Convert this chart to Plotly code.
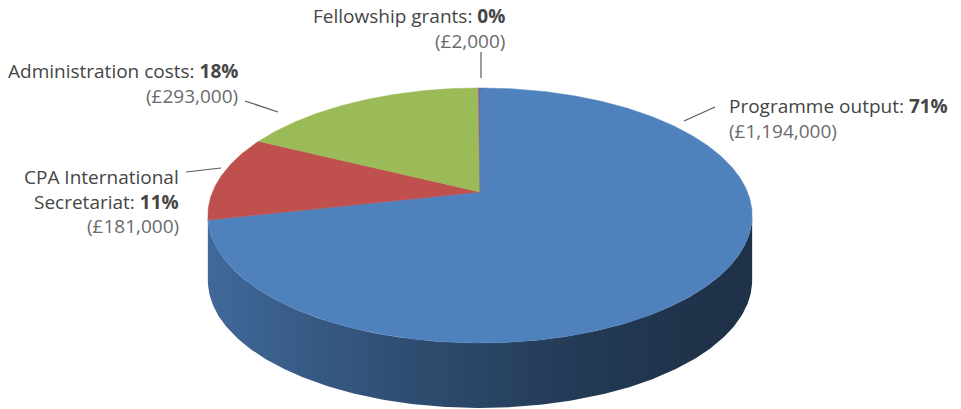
import numpy as np
import plotly.graph_objects as go

# ---------------- data ----------------
categories = ["Programme output", "CPA International Secretariat",
              "Administration costs", "Fellowship grants"]
values = [1194000, 181000, 293000, 2000]
label_first_lines = [["Programme output"], ["CPA International", "Secretariat"],
                     ["Administration costs"], ["Fellowship grants"]]
top_colors = ["#4f81bd", "#c0504d", "#9bbb59", "#8064a2"]

# ---------------- geometry / style ----------------
W, H = 961, 409
CX, CY = 480, 192          # projected centre of top face
RX, RB, K = 267.5, 123.2, 0.184   # radii + perspective factor
DEPTH = 65
FONT = "Open Sans"


def proj(theta_deg):
    t = np.radians(theta_deg)
    u, v = np.sin(t), np.cos(t)
    d = 1 + K * v
    return CX + RX * u / d, CY - RB * v / d


def hex2rgb(h):
    h = h.lstrip("#")
    return tuple(int(h[i:i + 2], 16) for i in (0, 2, 4))


def shade(hexcol, f):
    r, g, b = hex2rgb(hexcol)
    return f"rgb({int(r * f)},{int(g * f)},{int(b * f)})"


total = sum(values)
fracs = [v / total for v in values]
starts = np.concatenate([[0], np.cumsum(fracs)[:-1]]) * 360
ends = np.cumsum(fracs) * 360

fig = go.Figure()

# --- side (visible front wall) ---
grid = np.linspace(0, 360, 3601)
gx, _ = proj(grid)
th_right = grid[np.argmax(gx)]
th_left = grid[np.argmin(gx)]
xmin, xmax = gx.min(), gx.max()


def side_factor(s):
    return 0.38 + 0.44 * s ** 1.5


for i, cat in enumerate(categories):
    a0 = max(starts[i], th_right)
    a1 = min(ends[i], th_left)
    if a1 <= a0:
        continue
    ts = np.linspace(a0, a1, max(4, int((a1 - a0) * 2)))
    tx, ty = proj(ts)
    px = np.concatenate([tx, tx[::-1], tx[:1]])
    py = np.concatenate([ty, ty[::-1] + DEPTH, ty[:1]])
    x_lo, x_hi = tx.min(), tx.max()
    cs = []
    for p in np.linspace(0, 1, 11):
        xx = x_lo + p * (x_hi - x_lo)
        s = (xmax - xx) / (xmax - xmin)
        cs.append([p, shade(top_colors[i], side_factor(s))])
    fig.add_trace(go.Scatter(
        x=px, y=py, mode="lines", fill="toself",
        fillgradient=dict(type="horizontal", colorscale=cs,
                          start=x_lo, stop=x_hi),
        line=dict(width=0), hoverinfo="skip", showlegend=False))

# --- top faces ---
for i, cat in enumerate(categories):
    ts = np.linspace(starts[i], ends[i], max(3, int((ends[i] - starts[i]) * 2)))
    tx, ty = proj(ts)
    px = np.concatenate([[CX], tx, [CX]])
    py = np.concatenate([[CY], ty, [CY]])
    fig.add_trace(go.Scatter(x=px, y=py, mode="lines", fill="toself",
                             fillcolor=top_colors[i],
                             line=dict(color=top_colors[i], width=0.5),
                             name=cat, hoverinfo="skip", showlegend=False))

# --- labels ---
LABEL_X = [727, 181, 240, 507]
LABEL_ANCHOR = ["left", "right", "right", "right"]
LABEL_BASE = [112, 183, 77, 22]
LINE_GAP = 24.5
LEADERS = [((684, 121), (715, 107)), ((186, 172), (221, 168)),
           ((245, 101), (278, 112)), ((481, 52), (481, 78))]

annotations = []
shapes = []
for i, cat in enumerate(categories):
    pct = round(fracs[i] * 100)
    lines = list(label_first_lines[i])
    texts = lines[:-1] + [f"{lines[-1]}: <b>{pct}%</b>", f"(£{values[i]:,})"]
    for j, t in enumerate(texts):
        last = j == len(texts) - 1
        annotations.append(dict(
            x=LABEL_X[i], y=LABEL_BASE[i] + j * LINE_GAP - 6,
            xref="x", yref="y", text=t, showarrow=False,
            xanchor=LABEL_ANCHOR[i], yanchor="middle",
            font=dict(family=FONT, size=19,
                      color="#6a6a6a" if last else "#454545")))
    (x0, y0), (x1, y1) = LEADERS[i]
    shapes.append(dict(type="line", x0=x0, y0=y0, x1=x1, y1=y1,
                       xref="x", yref="y",
                       line=dict(color="#5a5a5a", width=1.2)))

fig.update_layout(
    width=W, height=H,
    margin=dict(l=0, r=0, t=0, b=0),
    paper_bgcolor="white", plot_bgcolor="white",
    xaxis=dict(range=[0, W], visible=False, fixedrange=True),
    yaxis=dict(range=[H, 0], visible=False, fixedrange=True),
    annotations=annotations, shapes=shapes,
    showlegend=False,
)

fig.write_html("out.html", config={"displayModeBar": False},
               post_script="document.body.style.margin='0px';")
